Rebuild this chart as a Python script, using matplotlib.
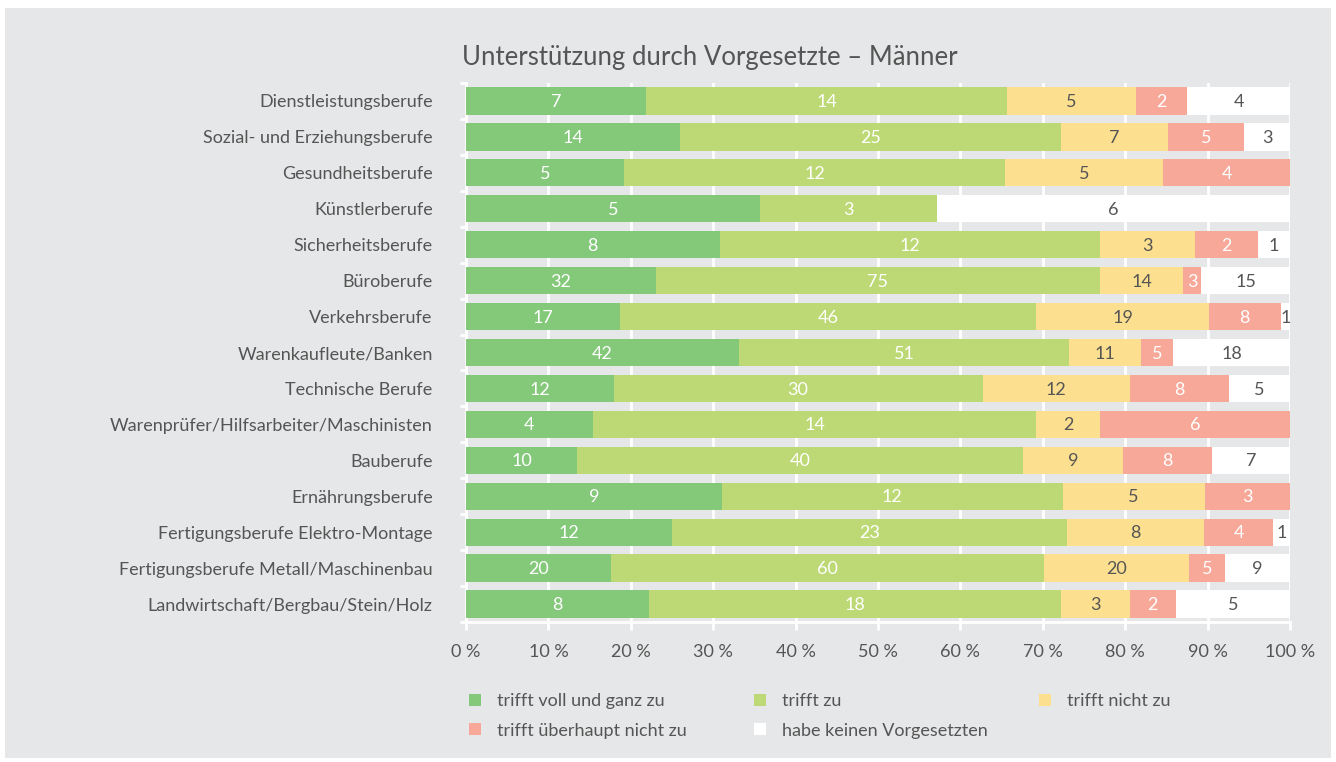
import numpy as np
import matplotlib
matplotlib.use("Agg")
from matplotlib import pyplot as plt
from matplotlib.patches import Rectangle, Patch

plt.rcParams['font.family'] = ['Lato', 'DejaVu Sans']

# Daten (Anzahl Nennungen je Beruf)
berufe = [
    "Dienstleistungsberufe",
    "Sozial- und Erziehungsberufe",
    "Gesundheitsberufe",
    "Künstlerberufe",
    "Sicherheitsberufe",
    "Büroberufe",
    "Verkehrsberufe",
    "Warenkaufleute/Banken",
    "Technische Berufe",
    "Warenprüfer/Hilfsarbeiter/Maschinisten",
    "Bauberufe",
    "Ernährungsberufe",
    "Fertigungsberufe Elektro-Montage",
    "Fertigungsberufe Metall/Maschinenbau",
    "Landwirtschaft/Bergbau/Stein/Holz",
]
voll_und_ganz = [7, 14, 5, 5, 8, 32, 17, 42, 12, 4, 10, 9, 12, 20, 8]
trifft_zu = [14, 25, 12, 3, 12, 75, 46, 51, 30, 14, 40, 12, 23, 60, 18]
nicht_zu = [5, 7, 5, 0, 3, 14, 19, 11, 12, 2, 9, 5, 8, 20, 3]
ueberhaupt_nicht = [2, 5, 4, 0, 2, 3, 8, 5, 8, 6, 8, 3, 4, 5, 2]
kein_vorgesetzter = [4, 3, 0, 6, 1, 15, 1, 18, 5, 0, 7, 0, 1, 9, 5]

kategorien = ["trifft voll und ganz zu", "trifft zu", "trifft nicht zu",
              "trifft überhaupt nicht zu", "habe keinen Vorgesetzten"]
farben = ["#84c87a", "#bdd975", "#fde08f", "#f7a898", "#ffffff"]
textfarben = ["white", "white", "#555555", "white", "#555555"]

bg = "#e6e7e8"
grau = "#555555"

daten = np.array([voll_und_ganz, trifft_zu, nicht_zu, ueberhaupt_nicht, kein_vorgesetzter], dtype=float)
summe = daten.sum(axis=0)
anteile = daten / summe * 100

fig = plt.figure(figsize=(13.36, 7.62), dpi=100, facecolor="white")
fig.patches.append(Rectangle((5 / 1336, 4 / 762), 1326 / 1336, 750 / 762,
                             transform=fig.transFigure, facecolor=bg, edgecolor="none", zorder=-10))
ax = fig.add_axes([466 / 1336, 1 - 622 / 762, 824 / 1336, 539 / 762])
ax.set_facecolor(bg)

y = np.arange(len(berufe))
links = np.zeros(len(berufe))
for i in range(5):
    ax.barh(y, anteile[i], left=links, height=0.76, color=farben[i], zorder=3)
    for j in range(len(berufe)):
        if daten[i, j] > 0:
            ax.text(links[j] + anteile[i, j] / 2, y[j] + 0.03, "%d" % daten[i, j],
                    ha="center", va="center", fontsize=13, color=textfarben[i], zorder=4)
    links += anteile[i]

ax.set_xlim(0, 100)
ax.set_ylim(len(berufe) - 0.5, -0.5)
ax.set_xticks(np.arange(0, 101, 10))
ax.set_xticklabels(["%d %%" % v for v in range(0, 101, 10)], fontsize=13, color=grau)
ax.set_yticks(y)
ax.set_yticklabels(berufe, fontsize=13, color=grau)
ax.set_yticks(np.arange(-0.5, len(berufe), 1), minor=True)
ax.tick_params(axis="y", which="major", length=0, pad=24)
ax.tick_params(axis="y", which="minor", length=4, color="white", width=2)
ax.tick_params(axis="x", length=6, color="white", width=2, pad=10)
ax.grid(axis="x", color="white", linewidth=2, zorder=0)
for s in ["top", "right"]:
    ax.spines[s].set_visible(False)
for s in ["left", "bottom"]:
    ax.spines[s].set_color("white")
    ax.spines[s].set_linewidth(2)

fig.text(462 / 1336, 1 - 58 / 762, "Unterstützung durch Vorgesetzte – Männer",
         fontsize=18.5, color=grau, ha="left", va="center")

# Legende: drei Spalten, zeilenweise gelesen
spalten = [[0, 3], [1, 4], [2]]
spalten_x = [453, 738, 1023]
for sp, x0 in zip(spalten, spalten_x):
    h = [Patch(facecolor=farben[k], edgecolor="none") for k in sp]
    l = [kategorien[k] for k in sp]
    leg = fig.legend(h, l, loc="upper left", bbox_to_anchor=(x0 / 1336, 1 - 677 / 762),
                     frameon=False, fontsize=13, handlelength=0.65, handleheight=0.65,
                     handletextpad=0.9, labelspacing=0.75, labelcolor=grau)

fig.savefig("out.png", dpi=100, facecolor="white")
